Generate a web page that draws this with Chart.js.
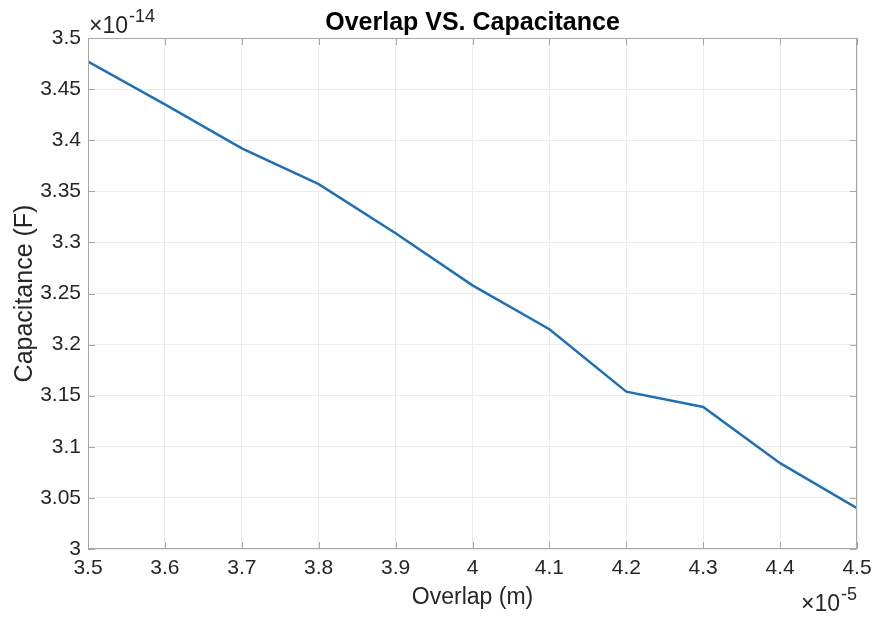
<!DOCTYPE html>
<html>
<head>
<meta charset="utf-8">
<title>Overlap VS. Capacitance</title>
<script src="https://cdn.jsdelivr.net/npm/chart.js@4.4.1/dist/chart.umd.min.js"></script>
<style>
    html, body { margin: 0; padding: 0; background: #fff; }
    #wrap { width: 883px; height: 618px; position: relative; }
</style>
</head>
<body>
<div id="wrap"><canvas id="capChart" width="883" height="618"></canvas></div>
<script>
// Overlap in units of 1e-5 m, capacitance in units of 1e-14 F
const overlap = [3.5, 3.6, 3.7, 3.8, 3.9, 4.0, 4.1, 4.2, 4.3, 4.4, 4.5];
const capacitance = [3.477, 3.435, 3.392, 3.357, 3.309, 3.258, 3.215, 3.154, 3.139, 3.084, 3.040];

const xTicks = [3.5, 3.6, 3.7, 3.8, 3.9, 4, 4.1, 4.2, 4.3, 4.4, 4.5];
const yTicks = [3, 3.05, 3.1, 3.15, 3.2, 3.25, 3.3, 3.35, 3.4, 3.45, 3.5];
const xExponent = '-5';
const yExponent = '-14';

const FONT = '"Liberation Sans", Arial, Helvetica, sans-serif';
const TEXT = '#262626';
const AXIS = '#a8a8a8';
const TICK_LEN = 7;

// MATLAB-style box: frame on all four sides with inward tick marks
const boxAxes = {
    id: 'boxAxes',
    afterDatasetsDraw(chart) {
        const { ctx, chartArea: a, scales: { x, y } } = chart;
        ctx.save();
        ctx.strokeStyle = AXIS;
        ctx.lineWidth = 1;
        ctx.beginPath();
        ctx.rect(a.left + 0.5, a.top + 0.5, a.right - a.left - 1, a.bottom - a.top - 1);
        xTicks.forEach(v => {
            const px = Math.round(x.getPixelForValue(v)) + 0.5;
            ctx.moveTo(px, a.bottom);
            ctx.lineTo(px, a.bottom - TICK_LEN);
            ctx.moveTo(px, a.top);
            ctx.lineTo(px, a.top + TICK_LEN);
        });
        yTicks.forEach(v => {
            const py = Math.round(y.getPixelForValue(v)) + 0.5;
            ctx.moveTo(a.left, py);
            ctx.lineTo(a.left + TICK_LEN, py);
            ctx.moveTo(a.right, py);
            ctx.lineTo(a.right - TICK_LEN, py);
        });
        ctx.stroke();

        // exponent labels (×10^n)
        const mainFont = '23px ' + FONT;
        const supFont = '18px ' + FONT;
        const measure = exp => {
            ctx.font = mainFont;
            const w1 = ctx.measureText('\u00d710').width;
            ctx.font = supFont;
            return [w1, ctx.measureText(exp).width];
        };
        const drawExp = (exp, left, base) => {
            const [w1] = measure(exp);
            ctx.font = mainFont;
            ctx.fillText('\u00d710', left, base);
            ctx.font = supFont;
            ctx.fillText(exp, left + w1 + 1, base - 11);
        };
        ctx.fillStyle = TEXT;
        ctx.textBaseline = 'alphabetic';
        ctx.textAlign = 'left';
        drawExp(yExponent, a.left + 1, a.top - 5);
        const [xw1, xw2] = measure(xExponent);
        drawExp(xExponent, a.right - xw1 - xw2 - 1, 611);
        ctx.restore();
    }
};

const ctx = document.getElementById('capChart').getContext('2d');
new Chart(ctx, {
    type: 'line',
    data: {
        datasets: [{
            data: overlap.map((v, i) => ({ x: v, y: capacitance[i] })),
            borderColor: '#1f6fb9',
            borderWidth: 2.5,
            pointRadius: 0,
            tension: 0,
            fill: false
        }]
    },
    options: {
        responsive: false,
        animation: false,
        layout: { padding: { top: 0, right: 26, bottom: 0, left: 0 } },
        plugins: {
            legend: { display: false },
            tooltip: { enabled: false },
            title: {
                display: true,
                text: 'Overlap VS. Capacitance',
                fullSize: false,
                color: '#000',
                font: { family: FONT, size: 25, weight: 'bold', lineHeight: 1.2 },
                padding: { top: 8, bottom: 0 }
            }
        },
        scales: {
            x: {
                type: 'linear',
                min: 3.5,
                max: 4.5,
                afterBuildTicks: scale => { scale.ticks = xTicks.map(v => ({ value: v })); },
                afterFit: scale => { scale.height = 69; },
                ticks: {
                    color: TEXT,
                    font: { family: FONT, size: 21 },
                    padding: 7,
                    maxRotation: 0,
                    callback: v => String(v)
                },
                grid: { color: '#ebebeb', drawTicks: false },
                border: { display: false },
                title: {
                    display: true,
                    text: 'Overlap (m)',
                    color: TEXT,
                    font: { family: FONT, size: 23 },
                    padding: { top: 0, bottom: 7 }
                }
            },
            y: {
                type: 'linear',
                min: 3,
                max: 3.5,
                afterBuildTicks: scale => { scale.ticks = yTicks.map(v => ({ value: v })); },
                afterFit: scale => { scale.width = 88; },
                ticks: {
                    color: TEXT,
                    font: { family: FONT, size: 21 },
                    padding: 7,
                    callback: v => String(v)
                },
                grid: { color: '#ebebeb', drawTicks: false },
                border: { display: false },
                title: {
                    display: true,
                    text: 'Capacitance (F)',
                    color: TEXT,
                    font: { family: FONT, size: 25 },
                    padding: { top: 10, bottom: 0 }
                }
            }
        }
    },
    plugins: [boxAxes]
});
</script>
</body>
</html>
